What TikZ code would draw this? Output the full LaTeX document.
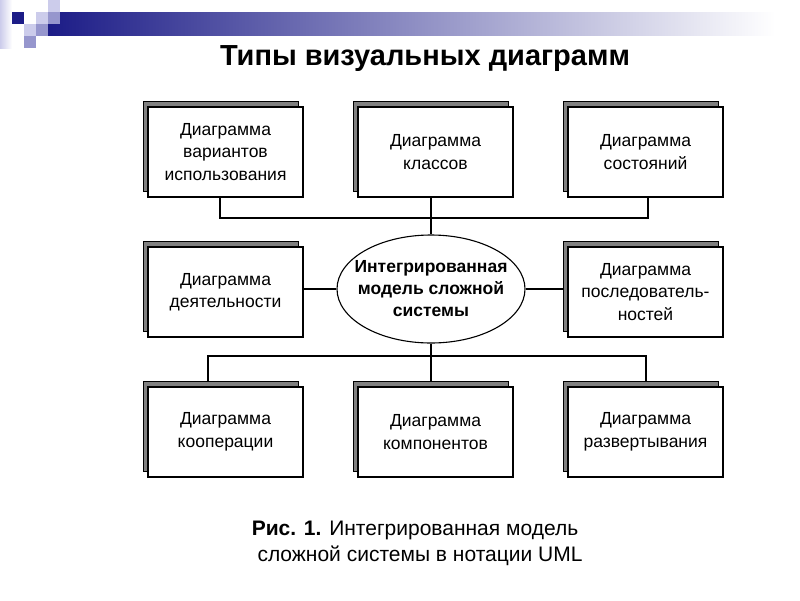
\documentclass[tikz,border=0pt]{standalone}
\usepackage{fontspec}
\setmainfont{Liberation Sans}
\usetikzlibrary{shapes.geometric,shadows,backgrounds,calc}
\definecolor{navy}{RGB}{28,28,135}
\definecolor{lavlight}{RGB}{204,204,235}
\definecolor{lavmid}{RGB}{150,150,205}
\definecolor{shadowgray}{RGB}{128,128,128}

\begin{document}
\begin{tikzpicture}[x=1pt,y=-1pt]
  \tikzstyle{diag}=[draw, line width=1.2pt, fill=white, minimum width=155pt, minimum height=90pt, align=center, inner sep=2pt, font=\fontsize{17.5}{22.5}\selectfont, copy shadow={shadow xshift=-5pt, shadow yshift=6pt, fill=shadowgray, draw=black, line width=1pt}]
  \tikzstyle{link}=[line width=1.2pt]
  \useasboundingbox (0,0) rectangle (800,600);

  % oformlenie slajda
  \shade[left color=navy, right color=white] (48,12) rectangle (775,35);
  \shade[left color=lavlight, right color=white] (0,0) rectangle (12,48);
  \foreach \x/\y/\c in {12/12/navy, 48/0/lavlight, 36/12/lavlight, 48/12/lavmid, 24/24/lavlight, 36/24/lavmid, 24/36/lavmid}
    \fill[\c] (\x,\y) rectangle ++(12,12);

  % zagolovok
  \node[font=\bfseries\fontsize{29}{34}\selectfont] (title) at (425,59) {Типы визуальных диаграмм};

  % diagrammy
  \node[diag] (usecase) at (225.5,152) {Диаграмма\\вариантов\\использования};
  \node[diag] (classes) at (435.5,152) {Диаграмма\\классов};
  \node[diag] (states) at (645.5,152) {Диаграмма\\состояний};
  \node[diag] (activity) at (225.5,292) {Диаграмма\\деятельности};
  \node[diag] (sequence) at (645.5,292) {Диаграмма\\последователь-\\ностей};
  \node[diag] (collab) at (225.5,432) {Диаграмма\\кооперации};
  \node[diag] (components) at (435.5,432) {Диаграмма\\компонентов};
  \node[diag] (deploy) at (645.5,432) {Диаграмма\\развертывания};

  % model v centre
  \node[draw, ellipse, line width=1.1pt, fill=white, minimum width=188pt, minimum height=108pt, inner xsep=-10pt, inner ysep=0pt, align=center, font=\bfseries\fontsize{17.5}{22}\selectfont] (model) at (431,289) {Интегрированная\\модель сложной\\системы};

  % svyazi
  \begin{scope}[on background layer]
    \coordinate (topbus) at (0,218);
    \coordinate (botbus) at (0,356);
    \coordinate (tl) at ($(usecase.south)+(-5.5,0)$);
    \coordinate (tr) at ($(states.south)+(2.5,0)$);
    \coordinate (bl) at ($(collab.north)+(-17.5,0)$);
    \coordinate (br) at ($(deploy.north)+(0.5,0)$);
    \draw[link] (tl) -- (tl |- topbus) -- (tr |- topbus) -- (tr);
    \draw[link] (model.north |- classes.south) -- (model.north);
    \draw[link] (model.west) -- (model.west -| activity.east);
    \draw[link] (model.east) -- (model.east -| sequence.west);
    \draw[link] (model.south) -- (model.south |- components.north);
    \draw[link] (bl) -- (bl |- botbus) -- (br |- botbus) -- (br);
  \end{scope}

  % podpis
  \node[font=\fontsize{21}{26}\selectfont, align=center] (caption) at (415,543) {\textbf{Рис. 1.} Интегрированная модель\\ \hspace*{10pt}сложной системы в нотации UML};
\end{tikzpicture}
\end{document}
